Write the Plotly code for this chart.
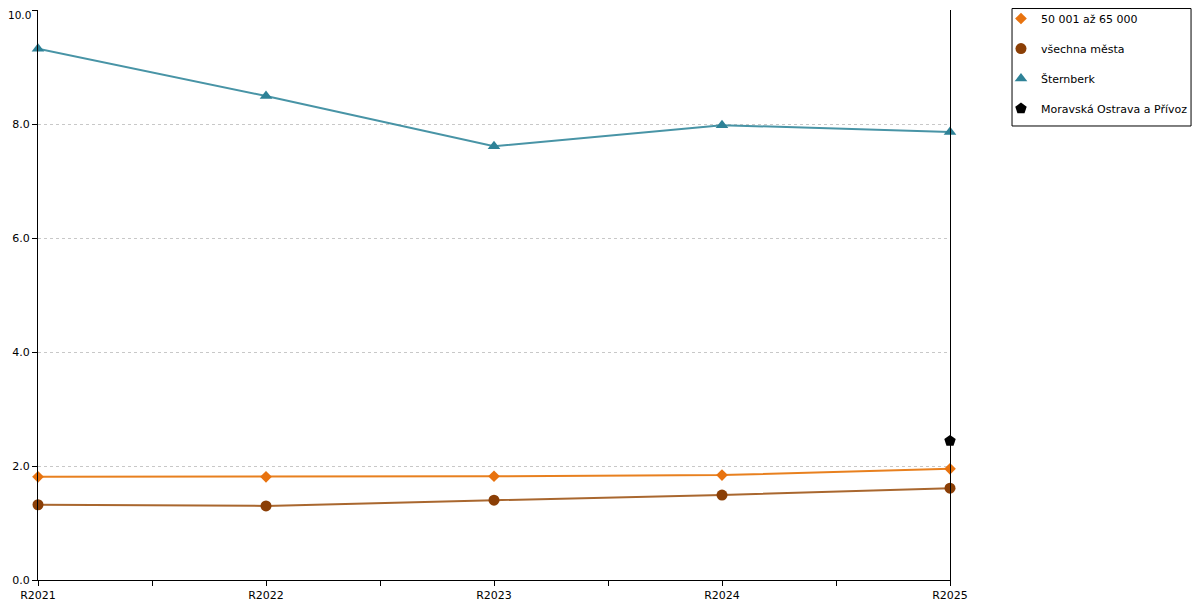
import plotly.graph_objects as go

categories = ["R2021", "R2022", "R2023", "R2024", "R2025"]
s_range = [1.81, 1.81, 1.82, 1.84, 1.95]
s_all = [1.32, 1.30, 1.40, 1.49, 1.61]
s_stern = [9.32, 8.49, 7.61, 7.98, 7.86]
s_mo = [None, None, None, None, 2.44]

names = ["50 001 až 65 000", "všechna města", "Šternberk", "Moravská Ostrava a Přívoz"]
ytick_vals = [0, 2, 4, 6, 8, 10]
x = list(range(len(categories)))

series = [
    (s_range, names[0], "#e8801f", "diamond", 9, "#e8730f"),
    (s_all, names[1], "#a9672f", "circle", 11, "#8b3f06"),
    (s_stern, names[2], "#4894a6", "triangle-up", 11, "#2e8297"),
]

fig = go.Figure()
for vals, nm, lc, sym, sz, mc in series:
    fig.add_trace(go.Scatter(x=x, y=vals, mode="lines", line=dict(color=lc, width=2),
                             showlegend=False, hoverinfo="skip", cliponaxis=False))
for i, (vals, nm, lc, sym, sz, mc) in enumerate(series):
    fig.add_trace(go.Scatter(x=x, y=vals, name=nm, mode="markers",
                             marker=dict(symbol=sym, size=sz, color=mc),
                             legendgroup=str(i), cliponaxis=False))
fig.add_trace(go.Scatter(x=x, y=s_mo, name=names[3], mode="markers",
                         marker=dict(symbol="pentagon", size=12, color="#000000"),
                         legendgroup="3", cliponaxis=False))

tickvals = [i * 0.5 for i in range(9)]
ticktext = [categories[int(v)] if v == int(v) else "" for v in tickvals]
ytext = [f"{v:.1f}" if v != ytick_vals[-1] else "" for v in ytick_vals]

# top tick label as annotation (nudged so it is not clipped)
fig.add_annotation(xref="paper", yref="y", x=0, y=ytick_vals[-1], text=f"{ytick_vals[-1]:.1f}",
                   showarrow=False, xanchor="right", yanchor="middle",
                   xshift=-5, yshift=-5, font=dict(size=10.5, color="#000"))

# legend frame drawn as a shape
fig.add_shape(type="rect", xref="paper", yref="paper",
              x0=1.0680, x1=1.2643, y0=0.7965, y1=1.0026,
              line=dict(color="black", width=1), fillcolor="rgba(0,0,0,0)")

fig.update_layout(
    width=1200, height=600,
    margin=dict(l=30, r=258, t=2, b=28, autoexpand=False),
    plot_bgcolor="white", paper_bgcolor="white",
    font=dict(family="DejaVu Sans", size=11, color="#000"),
    showlegend=True,
    legend=dict(xref="paper", yref="paper", x=1.0559, xanchor="left",
                y=1.0105, yanchor="top", bgcolor="rgba(0,0,0,0)",
                borderwidth=0,
                font=dict(size=11), traceorder="grouped", tracegroupgap=11),
    xaxis=dict(range=[0, 4], tickvals=tickvals, ticktext=ticktext, automargin=False,
               ticks="outside", ticklen=5, tickcolor="black",
               showline=True, linecolor="black", linewidth=1,
               showgrid=False, zeroline=False),
    yaxis=dict(range=[0, 10], tickvals=ytick_vals, ticktext=ytext, automargin=False,
               ticks="outside", ticklen=5, tickcolor="black",
               showline=True, linecolor="black", linewidth=1, mirror=True,
               showgrid=True, gridcolor="#c8c8c8", griddash="dot",
               zeroline=False),
)

fig.write_html("out.html")
